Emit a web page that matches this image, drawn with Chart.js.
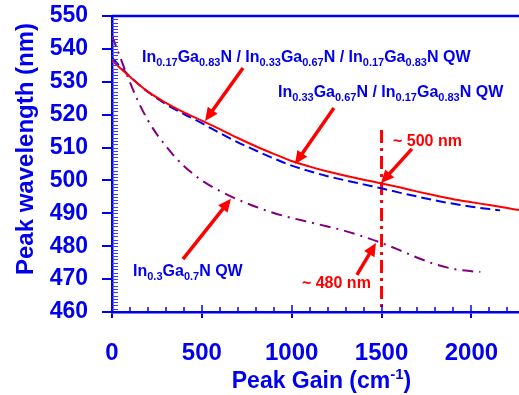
<!DOCTYPE html>
<html><head><meta charset="utf-8">
<script src="https://cdn.jsdelivr.net/npm/chart.js@4"></script>
<style>html,body{margin:0;padding:0;background:#fff}#wrap{width:519px;height:395px;position:relative}</style>
</head><body><div id="wrap"><canvas id="c"></canvas></div>
<script>
// ---- data ----
const redGain  = [0,100,200,300,400,500,600,700,800,900,1000,1100,1200,1300,1400,1500,1600,1700,1800,1900,2000,2100,2200,2265];
const redWave  = [536.5,531.5,527.0,523.6,520.7,518.2,515.6,512.9,510.4,508.1,505.9,504.2,502.7,501.4,500.2,499.1,497.9,496.6,495.4,494.3,493.4,492.5,491.6,491.0];
const blueGain = [0,100,200,300,400,500,600,700,800,900,1000,1100,1200,1300,1400,1500,1600,1700,1800,1900,2000,2100,2160];
const blueWave = [537.3,531.6,526.9,523.2,520.2,517.4,514.4,511.6,509.1,506.7,504.5,502.8,501.3,500.0,498.8,497.6,496.3,495.1,493.9,492.9,492.0,491.3,490.9];
const purpleGain = [0,50,100,150,200,250,300,350,400,500,600,700,800,900,1000,1100,1200,1300,1400,1500,1600,1700,1800,1900,2000,2050];
const purpleWave = [544.0,536.8,529.8,523.5,518.3,514.0,510.5,507.2,504.4,500.0,496.8,494.2,492.0,490.1,488.6,487.3,486.0,484.6,482.9,481.0,478.8,476.5,474.5,473.1,472.4,472.2];
const markerGain = [1500,1500];
const markerWave = [515.3,460];
const xTickValues = [0,500,1000,1500,2000];
const yTickValues = [460,470,480,490,500,510,520,530,540,550];
// annotation texts (with _{sub}) and their anchors (left, baseline) in data units
const noteTexts = ["In_{0.17}Ga_{0.83}N / In_{0.33}Ga_{0.67}N / In_{0.17}Ga_{0.83}N QW",
                   "In_{0.33}Ga_{0.67}N / In_{0.17}Ga_{0.83}N QW",
                   "~ 500 nm", "~ 480 nm", "In_{0.3}Ga_{0.7}N QW"];
const noteGain = [167, 924, 1564, 1057, 117];
const noteWave = [536.0, 525.4, 510.5, 467.3, 471.0];
const noteColor = ["blue","blue","red","red","blue"];
// arrows: tail -> head in data units
const arrowFromGain = [729, 1235, 1669, 1363, 395];
const arrowFromWave = [534.2, 522.0, 509.6, 471.3, 476.1];
const arrowToGain   = [518, 1018, 1497, 1469, 662];
const arrowToWave   = [518.1, 505.0, 499.2, 481.0, 494.4];

const BLUE = '#0000ee', RED = '#ff0000', PURPLE = '#800080';
const FAM = '"Liberation Sans", Arial, Helvetica, sans-serif';
const pts = (xs, ys) => xs.map((x, i) => ({x, y: ys[i]}));

function drawRich(ctx, str, x, y, size, color, align) {
  const subSize = Math.round(size * 0.66);
  const parts = [];
  const re = /_\{([^}]*)\}|\^\{([^}]*)\}|[^_^]+/g;
  let m;
  while ((m = re.exec(str))) {
    if (m[1] !== undefined) parts.push({t: m[1], k: 'sub'});
    else if (m[2] !== undefined) parts.push({t: m[2], k: 'sup'});
    else parts.push({t: m[0], k: 'n'});
  }
  let w = 0;
  parts.forEach(p => {
    ctx.font = 'bold ' + (p.k === 'n' ? size : subSize) + 'px ' + FAM;
    p.w = ctx.measureText(p.t).width; w += p.w;
  });
  let cx = align === 'center' ? x - w / 2 : x;
  ctx.fillStyle = color; ctx.textBaseline = 'alphabetic'; ctx.textAlign = 'left';
  parts.forEach(p => {
    ctx.font = 'bold ' + (p.k === 'n' ? size : subSize) + 'px ' + FAM;
    const dy = p.k === 'sub' ? size * 0.25 : (p.k === 'sup' ? -size * 0.38 : 0);
    ctx.fillText(p.t, cx, y + dy);
    cx += p.w;
  });
}

const decor = {
  id: 'decor',
  afterDatasetsDraw(chart) {
    const {ctx, chartArea: a, scales: {x, y}} = chart;
    ctx.save();
    // top border
    ctx.strokeStyle = BLUE; ctx.lineWidth = 2.5;
    ctx.beginPath(); ctx.moveTo(a.left, a.top); ctx.lineTo(a.right, a.top); ctx.stroke();
    // minor ticks
    ctx.lineWidth = 1; ctx.strokeStyle = '#3a3aff';
    for (let v = 461; v < 550; v++) {
      const py = Math.round(y.getPixelForValue(v)) + 0.5;
      ctx.beginPath(); ctx.moveTo(a.left, py); ctx.lineTo(a.left + 6, py); ctx.stroke();
    }
    ctx.lineWidth = 1.5; ctx.strokeStyle = BLUE;
    for (let v = 100; v <= 2200; v += 100) {
      const px = Math.round(x.getPixelForValue(v));
      const len = (v % 500 === 0) ? 7 : 5;
      ctx.beginPath(); ctx.moveTo(px, a.bottom); ctx.lineTo(px, a.bottom - len); ctx.stroke();
    }
    // arrows
    ctx.strokeStyle = RED; ctx.fillStyle = RED; ctx.lineWidth = 3.5;
    for (let i = 0; i < arrowFromGain.length; i++) {
      const x0 = x.getPixelForValue(arrowFromGain[i]), y0 = y.getPixelForValue(arrowFromWave[i]);
      const x1 = x.getPixelForValue(arrowToGain[i]), y1 = y.getPixelForValue(arrowToWave[i]);
      const ang = Math.atan2(y1 - y0, x1 - x0);
      const hl = 13, hw = 6;
      const bx = x1 - hl * Math.cos(ang), by = y1 - hl * Math.sin(ang);
      ctx.beginPath(); ctx.moveTo(x0, y0); ctx.lineTo(bx + 2 * Math.cos(ang), by + 2 * Math.sin(ang)); ctx.stroke();
      ctx.beginPath(); ctx.moveTo(x1, y1);
      ctx.lineTo(bx + hw * Math.sin(ang), by - hw * Math.cos(ang));
      ctx.lineTo(bx - hw * Math.sin(ang), by + hw * Math.cos(ang));
      ctx.closePath(); ctx.fill();
    }
    // notes
    for (let i = 0; i < noteTexts.length; i++) {
      drawRich(ctx, noteTexts[i], x.getPixelForValue(noteGain[i]), y.getPixelForValue(noteWave[i]), 16,
               noteColor[i] === 'red' ? RED : BLUE, 'left');
    }
    // axis titles
    drawRich(ctx, 'Peak Gain (cm^{-1})', (a.left + a.right) / 2 + 6, chart.height - 7, 23, BLUE, 'center');
    ctx.save();
    ctx.translate(33, 149); ctx.rotate(-Math.PI / 2);
    drawRich(ctx, 'Peak wavelength (nm)', 0, 0, 24, BLUE, 'center');
    ctx.restore();
    ctx.restore();
  }
};

new Chart(document.getElementById('c'), {
  type: 'line',
  data: {
    datasets: [
      {data: pts(redGain, redWave), borderColor: RED, borderWidth: 2, pointRadius: 0, cubicInterpolationMode: 'monotone', fill: false},
      {data: pts(blueGain, blueWave), borderColor: BLUE, borderWidth: 2, borderDash: [10, 5], pointRadius: 0, cubicInterpolationMode: 'monotone', fill: false},
      {data: pts(purpleGain, purpleWave), borderColor: PURPLE, borderWidth: 2, borderDash: [11, 6, 2, 6], pointRadius: 0, cubicInterpolationMode: 'monotone', fill: false},
      {data: pts(markerGain, markerWave), borderColor: RED, borderWidth: 3, borderDash: [13, 5, 3, 5], pointRadius: 0, fill: false}
    ]
  },
  options: {
    responsive: true, maintainAspectRatio: false, animation: false, devicePixelRatio: 1,
    layout: {padding: {top: 16, left: 0, right: 0, bottom: 0}},
    plugins: {legend: {display: false}, tooltip: {enabled: false}},
    scales: {
      x: {
        type: 'linear', min: 0, max: 2265,
        afterFit: s => { s.height = 83; s.paddingLeft = 0; s.paddingRight = 0; },
        afterBuildTicks: s => { s.ticks = xTickValues.map(v => ({value: v})); },
        ticks: {color: BLUE, font: {family: FAM, size: 24, weight: 'bold'}, padding: 21, maxRotation: 0, autoSkip: false, includeBounds: false,
                callback: v => String(v)},
        grid: {drawOnChartArea: false, tickLength: 6, color: BLUE, lineWidth: 2},
        border: {color: BLUE, width: 2.5}
      },
      y: {
        min: 460, max: 550,
        afterFit: s => { s.width = 112; s.paddingTop = 0; s.paddingBottom = 0; },
        afterBuildTicks: s => { s.ticks = yTickValues.map(v => ({value: v})); },
        ticks: {color: BLUE, font: {family: FAM, size: 23, weight: 'bold'}, padding: 14, autoSkip: false,
                callback: v => String(v)},
        grid: {drawOnChartArea: false, tickLength: 10, color: BLUE, lineWidth: 2},
        border: {color: BLUE, width: 2.5}
      }
    }
  },
  plugins: [decor]
});
</script></body></html>
